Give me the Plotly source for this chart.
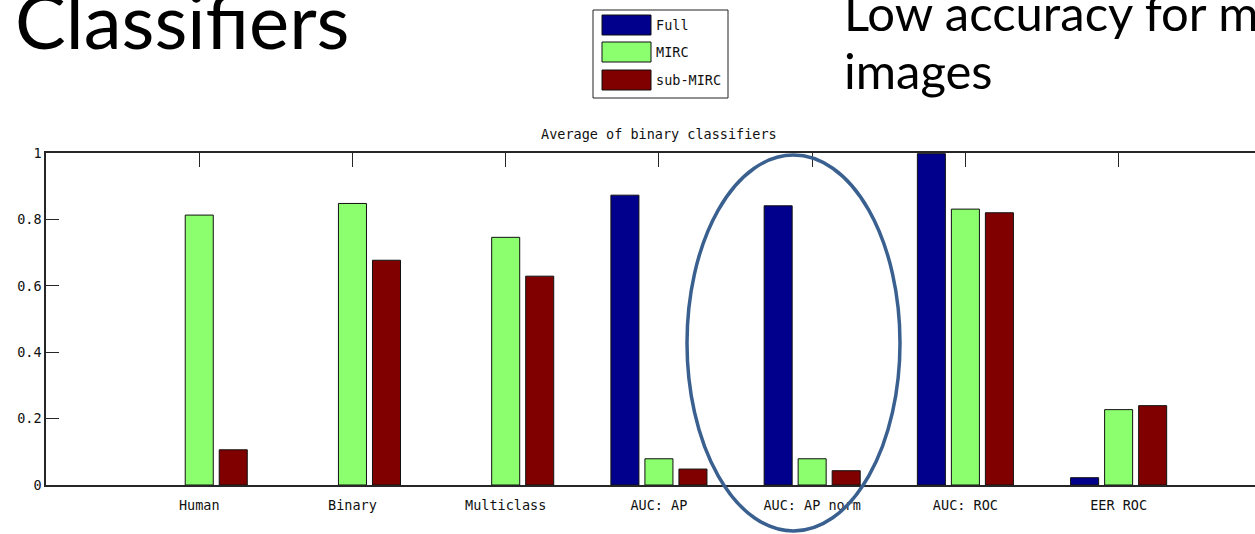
import plotly.graph_objects as go

W, H = 1255, 534

categories = ["Human", "Binary", "Multiclass", "AUC: AP", "AUC: AP norm", "AUC: ROC", "EER ROC"]
full = [None, None, None, 0.873, 0.841, 0.998, 0.022]
mirc = [0.813, 0.848, 0.746, 0.079, 0.079, 0.831, 0.227]
sub_mirc = [0.106, 0.677, 0.629, 0.048, 0.043, 0.820, 0.239]

series_names = ["Full", "MIRC", "sub-MIRC"]
series_values = [full, mirc, sub_mirc]
series_colors = ["#00008C", "#8CFF6E", "#800000"]

y_ticks = [0, 0.2, 0.4, 0.6, 0.8, 1]
y_ticktext = ["0", "0.2", "0.4", "0.6", "0.8", "1"]

note_lines = ["Low accuracy for m", "images"]

AX_FONT = "DejaVu Sans Mono, Liberation Mono, monospace"
AX_SIZE = 13.5
SLIDE_FONT = "Lato, Open Sans, sans-serif"
AX_COLOR = "#262626"
TXT_COLOR = "#111111"

x_pos = list(range(1, len(categories) + 1))

fig = go.Figure()
for name, vals, col in zip(series_names, series_values, series_colors):
    fig.add_trace(go.Bar(
        x=x_pos, y=vals, name=name,
        marker=dict(color=col, line=dict(color=TXT_COLOR, width=1)),
        showlegend=False,
    ))

fig.update_layout(
    width=W, height=H,
    margin=dict(l=0, r=0, t=0, b=0, autoexpand=False),
    paper_bgcolor="white", plot_bgcolor="white",
    barmode="group", bargap=0.334, bargroupgap=0.176,
    xaxis=dict(
        domain=[46 / W, 1.0],
        range=[0, 7.89],
        automargin=False,
        layer="below traces",
        tickvals=x_pos, ticktext=categories,
        ticks="inside", ticklen=14, tickcolor=AX_COLOR, tickwidth=1,
        ticklabelstandoff=7,
        showline=True, linecolor=AX_COLOR, linewidth=1.5, mirror="ticks",
        showgrid=False, zeroline=False,
        tickfont=dict(family=AX_FONT, size=AX_SIZE, color=TXT_COLOR),
    ),
    yaxis=dict(
        domain=[49 / H, 381 / H],
        range=[0, 1],
        automargin=False,
        tickvals=y_ticks, ticktext=y_ticktext,
        ticks="inside", ticklen=13, tickcolor=AX_COLOR, tickwidth=1,
        showline=True, linecolor=AX_COLOR, linewidth=1.5,
        showgrid=False, zeroline=False,
        tickfont=dict(family=AX_FONT, size=AX_SIZE, color=TXT_COLOR),
    ),
)

# axes title, centred over the full [0, 8] category span
fig.add_annotation(
    x=4, xref="x", y=1 - 134 / H, yref="paper",
    text="Average of binary classifiers", showarrow=False,
    font=dict(family=AX_FONT, size=AX_SIZE, color=TXT_COLOR),
    xanchor="center", yanchor="middle",
)


def px(x):
    return x / W


def py(y):
    return 1 - y / H


# legend box
fig.add_shape(type="rect", xref="paper", yref="paper",
              x0=px(593), x1=px(728), y0=py(10), y1=py(98),
              line=dict(color="#222222", width=1), fillcolor="white")
row_tops = [15, 42, 70]
for name, col, top in zip(series_names, series_colors, row_tops):
    fig.add_shape(type="rect", xref="paper", yref="paper",
                  x0=px(602), x1=px(651), y0=py(top), y1=py(top + 20),
                  line=dict(color=TXT_COLOR, width=1), fillcolor=col)
    fig.add_annotation(x=px(654), y=py(top + 10), xref="paper", yref="paper",
                       text=name, showarrow=False, xanchor="left", yanchor="middle",
                       font=dict(family=AX_FONT, size=AX_SIZE, color=TXT_COLOR))

# slide heading
fig.add_annotation(x=px(13), y=py(67), xref="paper", yref="paper",
                   text="Classifiers", showarrow=False, xanchor="left", yanchor="bottom",
                   font=dict(family=SLIDE_FONT, size=76, color="black"))

# side note, one annotation per line
for line, bottom in zip(note_lines, [43, 101]):
    fig.add_annotation(x=px(842), y=py(bottom), xref="paper", yref="paper",
                       text=line, showarrow=False, xanchor="left", yanchor="bottom",
                       font=dict(family=SLIDE_FONT, size=49, color="black"))

# highlight ellipse
fig.add_shape(type="circle", xref="paper", yref="paper",
              x0=px(687), x1=px(900), y0=py(155), y1=py(531),
              line=dict(color="#3A6090", width=3.5))

fig.write_html("out.html")
